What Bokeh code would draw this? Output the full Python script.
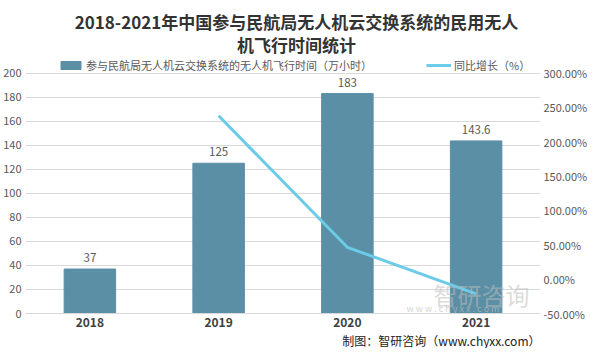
from bokeh.plotting import figure
from bokeh.models import (Range1d, LinearAxis, Label, ColumnDataSource, FixedTicker,
                          CustomJSTickFormatter, Title, Legend, LegendItem)
from bokeh.core.properties import value
from bokeh.embed import file_html
from bokeh.resources import INLINE

years = ["2018", "2019", "2020", "2021"]
hours = [37, 125, 183, 143.6]
hour_labels = ["37", "125", "183", "143.6"]
growth_years = ["2019", "2020", "2021"]
growth = [237.84, 46.4, -21.53]
left_ticks = [0, 20, 40, 60, 80, 100, 120, 140, 160, 180, 200]
right_ticks = [-50, 0, 50, 100, 150, 200, 250, 300]

BAR = "#5b8fa6"
LINE = "#6ccbe6"
FONT = "Noto Sans CJK SC"

W, H = 590, 348
BB = 42                 # bottom panel (axis labels + footer)
HF = H - BB             # plot-area height (it reaches the top of the canvas)
GRID_TOP_PX = 71        # where the 200 line sits, from the canvas top
TOP = 200 * HF / (HF - GRID_TOP_PX)
PCT_TOP = -50 + (TOP / 200) * 350

p = figure(width=W, height=H, x_range=years, y_range=Range1d(0, TOP),
           output_backend="svg", toolbar_location=None,
           min_border_left=24, min_border_right=46, min_border_top=0, min_border_bottom=0)
p.title.visible = False
p.outline_line_color = None
p.border_fill_color = "white"
p.background_fill_color = "white"
p.xgrid.grid_line_color = None
p.ygrid.grid_line_color = "#d9d9d9"
p.ygrid.ticker = FixedTicker(ticks=left_ticks)

p.extra_y_ranges = {"pct": Range1d(-50, PCT_TOP)}

src = ColumnDataSource(dict(x=years, y=hours, lab=hour_labels))
bars = p.vbar(x="x", top="y", width=0.4, color=BAR, source=src)
p.text(x="x", y="y", text="lab", source=src, text_align="center", text_baseline="bottom",
       y_offset=-7, text_font=value(FONT), text_font_size="11.5px", text_color="#595959")

ln = p.line(x=growth_years, y=growth, y_range_name="pct", line_color=LINE, line_width=3)

p.xaxis.axis_line_color = "#d9d9d9"
p.xaxis.major_tick_line_color = None
p.xaxis.minor_tick_line_color = None
p.xaxis.major_tick_out = 0
p.xaxis.major_tick_in = 0
p.xaxis.major_label_text_font = FONT
p.xaxis.major_label_text_font_style = "bold"
p.xaxis.major_label_text_font_size = "12px"
p.xaxis.major_label_text_color = "#404040"
p.xaxis.major_label_standoff = 4

p.yaxis.ticker = FixedTicker(ticks=left_ticks)
p.yaxis.axis_line_color = None
p.yaxis.major_tick_line_color = None
p.yaxis.minor_tick_line_color = None
p.yaxis.major_tick_out = 0
p.yaxis.major_tick_in = 0
p.yaxis.major_label_text_font = FONT
p.yaxis.major_label_text_font_size = "11px"
p.yaxis.major_label_text_color = "#595959"
p.yaxis.major_label_standoff = 4

ax2 = LinearAxis(y_range_name="pct", ticker=FixedTicker(ticks=right_ticks))
ax2.formatter = CustomJSTickFormatter(code="return tick.toFixed(2) + '%';")
ax2.axis_line_color = None
ax2.major_tick_line_color = None
ax2.minor_tick_line_color = None
ax2.major_tick_out = 0
ax2.major_tick_in = 0
ax2.major_label_text_font = FONT
ax2.major_label_text_font_size = "11px"
ax2.major_label_text_color = "#595959"
ax2.major_label_standoff = 3
p.add_layout(ax2, "right")


def fx(cx):
    return cx - 24


def fy(cy):
    return HF - cy


# Title (inside the top part of the plot area)
for cy, line_text in [(14, "2018-2021年中国参与民航局无人机云交换系统的民用无人"),
                      (37, "机飞行时间统计")]:
    p.add_layout(Label(x=fx(295), y=fy(cy), x_units="screen", y_units="screen",
                       text=line_text, text_align="center", text_baseline="middle",
                       text_font=FONT, text_font_style="bold", text_font_size="17px",
                       text_color="#333333"))

# Legend
legend = Legend(items=[
    LegendItem(label="参与民航局无人机云交换系统的无人机飞行时间（万小时）", renderers=[bars]),
    LegendItem(label="同比增长（%）", renderers=[ln]),
], orientation="horizontal", location=(fx(57), fy(60) - 6), spacing=54,
    label_text_font=FONT, label_text_font_size="11px", label_text_color="#595959",
    glyph_width=25, glyph_height=10, label_height=12, label_standoff=3, padding=0, margin=0,
    border_line_color=None, background_fill_alpha=0)
p.add_layout(legend)

# Footer
p.add_layout(Title(text="制图：智研咨询（www.chyxx.com）", align="right", text_font=FONT,
                   text_font_style="normal", text_font_size="12px",
                   text_color="#222222", standoff=0, text_line_height=1.0), "below")

# Watermark (inside plot area)
p.add_layout(Label(x=fx(432), y=fy(306) + 2, x_units="screen", y_units="screen",
                   text="智研咨询", text_baseline="bottom", text_font=FONT,
                   text_font_size="24px", text_color="#bdbdbd", text_alpha=0.55))
p.add_layout(Label(x=fx(405), y=fy(306) - 1, x_units="screen", y_units="screen",
                   text="w w w . c h y x x . c o m", text_baseline="bottom", text_font=FONT,
                   text_font_size="9px", text_color="#bdbdbd", text_alpha=0.7))

open("out.html", "w").write(file_html(p, INLINE))
